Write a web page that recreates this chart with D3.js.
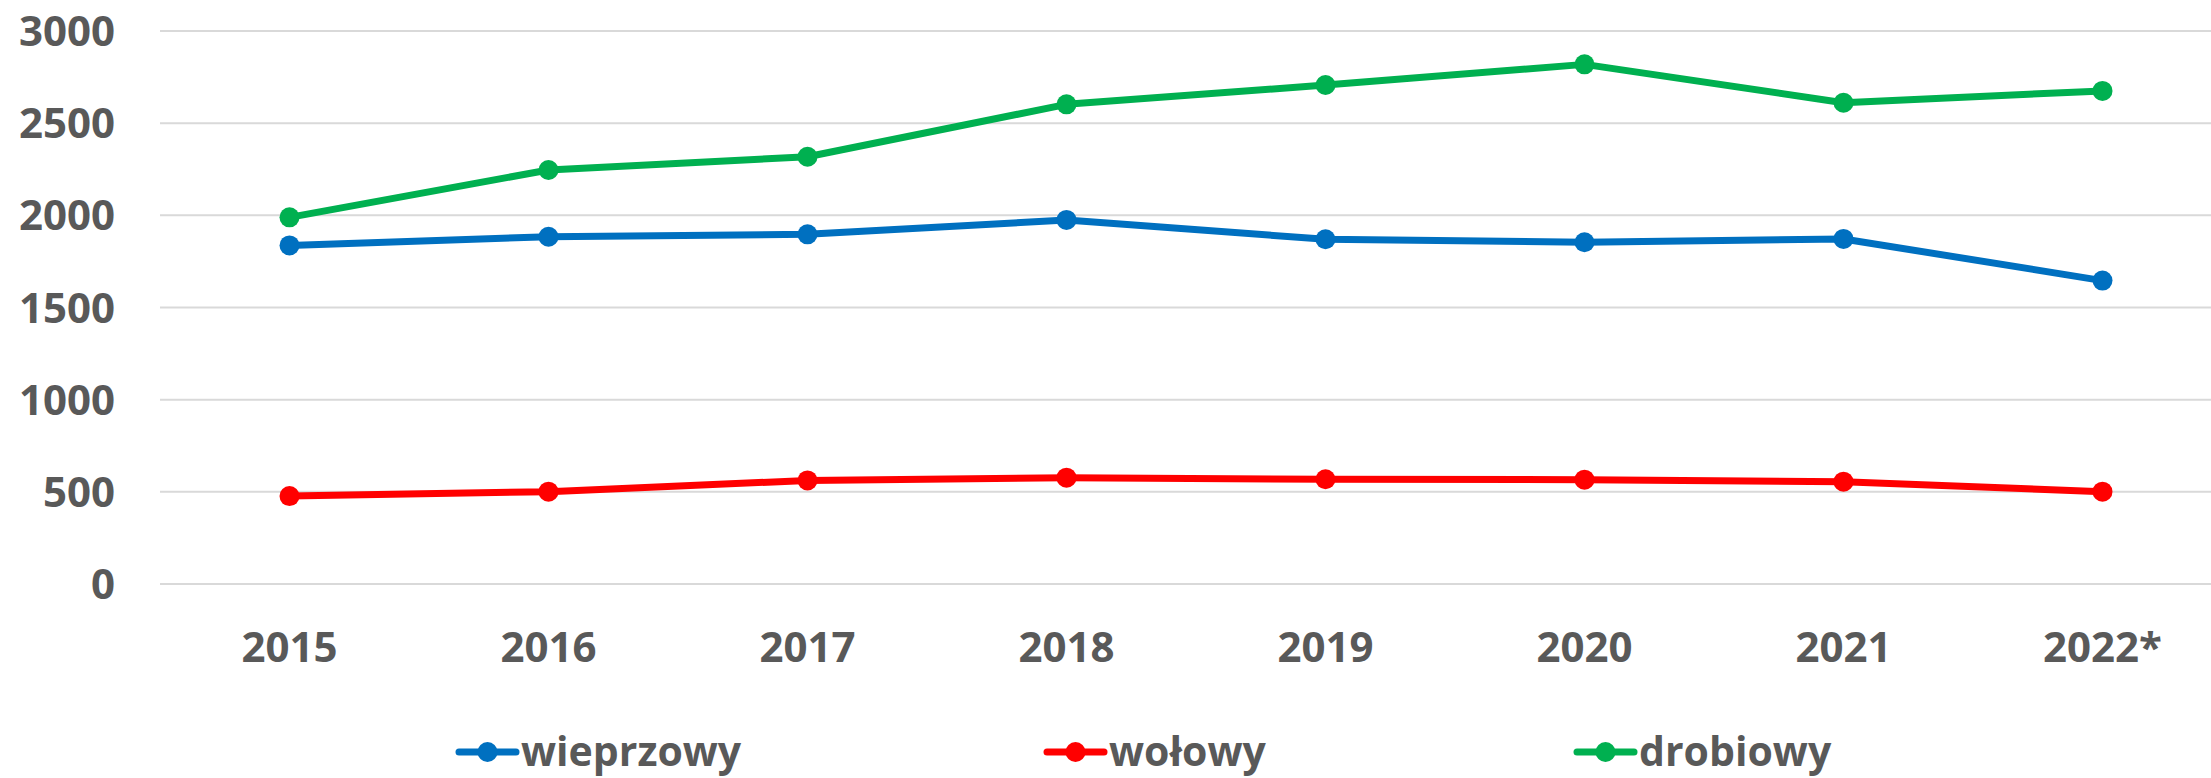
<!DOCTYPE html>
<html>
<head>
<meta charset="utf-8">
<script src="https://cdn.jsdelivr.net/npm/d3@7"></script>
<style>
  html, body { margin: 0; padding: 0; background: #fff; overflow: hidden; }
  svg { display: block; }
  text { font-family: "Open Sans", "Noto Sans", sans-serif; font-weight: 700; fill: #595959; }
</style>
</head>
<body>
<script>
const categories = ["2015", "2016", "2017", "2018", "2019", "2020", "2021", "2022*"];
const wieprzowy = [1837, 1884, 1897, 1975, 1870, 1854, 1872, 1646];
const wolowy = [477, 501, 562, 577, 568, 566, 555, 501];
const drobiowy = [1989, 2246, 2318, 2602, 2707, 2819, 2611, 2675];
const yTicks = [0, 500, 1000, 1500, 2000, 2500, 3000];
const seriesNames = ["wieprzowy", "wołowy", "drobiowy"];
const seriesColors = ["#0070C0", "#FF0000", "#00B050"];

const series = [
  { name: seriesNames[0], color: seriesColors[0], values: wieprzowy },
  { name: seriesNames[1], color: seriesColors[1], values: wolowy },
  { name: seriesNames[2], color: seriesColors[2], values: drobiowy }
];

const W = 2211, H = 778;
const svg = d3.select("body").append("svg").attr("width", W).attr("height", H);

const plotLeft = 160, bandW = 259;
const x = d3.scaleBand().domain(categories).range([plotLeft, plotLeft + bandW * categories.length]);
const y = d3.scaleLinear().domain([0, 3000]).range([584, 31]);
const cx = c => x(c) + x.bandwidth() / 2;

// gridlines
svg.append("g").selectAll("line").data(yTicks).join("line")
  .attr("x1", plotLeft).attr("x2", W)
  .attr("y1", d => y(d)).attr("y2", d => y(d))
  .attr("stroke", "#d9d9d9").attr("stroke-width", 2);

// y labels
svg.append("g").selectAll("text").data(yTicks).join("text")
  .attr("x", 115).attr("y", d => y(d) + 15)
  .attr("text-anchor", "end")
  .attr("font-size", 42)
  .text(d => d);

// x labels
svg.append("g").selectAll("text").data(categories).join("text")
  .attr("x", d => cx(d)).attr("y", 662)
  .attr("text-anchor", "middle")
  .attr("font-size", 42)
  .text(d => d);

const line = d3.line().x((d, i) => cx(categories[i])).y(d => y(d));

series.forEach(s => {
  const g = svg.append("g");
  g.append("path").datum(s.values)
    .attr("d", line)
    .attr("fill", "none")
    .attr("stroke", s.color)
    .attr("stroke-width", 7)
    .attr("stroke-linejoin", "round");
  g.selectAll("circle").data(s.values).join("circle")
    .attr("cx", (d, i) => cx(categories[i]))
    .attr("cy", d => y(d))
    .attr("r", 10)
    .attr("fill", s.color);
});

// legend
const legendX = [459, 1047, 1577];
const legY = 752;
series.forEach((s, i) => {
  const g = svg.append("g").attr("transform", `translate(${legendX[i]},${legY})`);
  g.append("line").attr("x1", 0).attr("x2", 57).attr("y1", 0).attr("y2", 0)
    .attr("stroke", s.color).attr("stroke-width", 7).attr("stroke-linecap", "round");
  g.append("circle").attr("cx", 28.5).attr("cy", 0).attr("r", 10).attr("fill", s.color);
  g.append("text").attr("x", 62).attr("y", 14).attr("font-size", 41).text(s.name);
});
</script>
</body>
</html>
